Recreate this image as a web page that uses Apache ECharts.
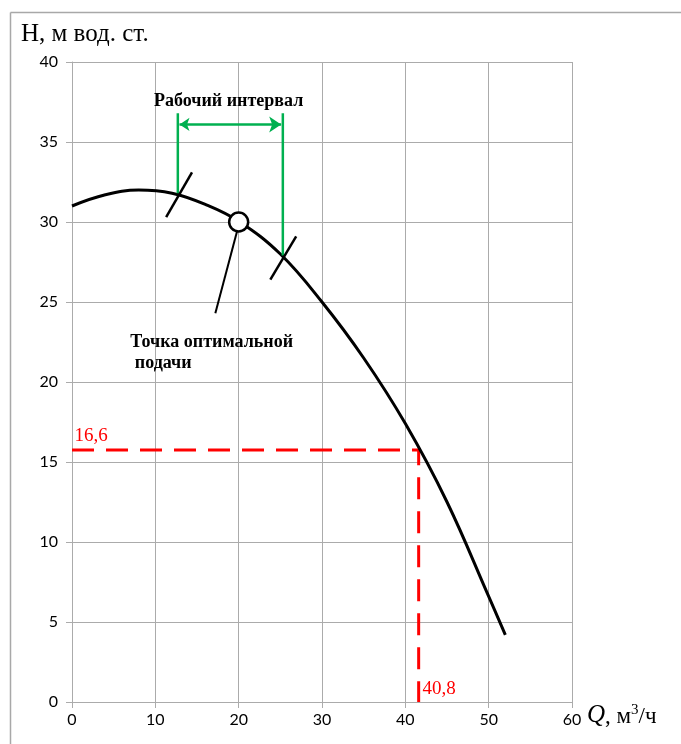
<!DOCTYPE html>
<html><head><meta charset="utf-8">
<script src="https://cdn.jsdelivr.net/npm/echarts@6/dist/echarts.min.js"></script>
<style>html,body{margin:0;padding:0;background:#fff}#c{width:681px;height:744px}</style>
</head><body><div id="c"></div>
<script>
// Pump curve H(Q)
const Q = [0, 4, 8, 12, 16, 20, 25, 30, 35, 40, 45, 50, 52];
const H = [31, 31.7, 32, 31.8, 31.1, 30.05, 28, 25, 21.5, 17.4, 12.5, 6.6, 4.2];
// axis ticks
const xTicks = [0, 10, 20, 30, 40, 50, 60];
const yTicks = [0, 5, 10, 15, 20, 25, 30, 35, 40];
// working interval
const workQ = [12.7, 25.3];
const workH = [31.8, 27.9];
const workTop = 36.8;
const arrowH = 36.1;
// optimal point
const optPoint = [20, 30];
const optLeader = [[19.8, 29.4], [17.2, 24.3]];
// crossing marks on curve
const markA = [[11.3, 30.3], [14.4, 33.1]];
const markB = [[23.8, 26.4], [26.9, 29.1]];
// operating point (red)
const opQ = 41.6, opH = 15.75;
const opLabels = ['16,6', '40,8'];
// texts
const txtWork = 'Рабочий интервал';
const txtOpt = 'Точка оптимальной\n подачи';

const chart = echarts.init(document.getElementById('c'), null, {renderer: 'canvas'});
const grid = {left: 72, right: 109, top: 62, bottom: 42};
const gridColor = '#ababab';
const serif = '"Liberation Serif", "DejaVu Serif", serif';
const tickFont = 'Lato, "Open Sans", sans-serif';

const curve = Q.map((q, i) => [q, H[i]]);
function seg(a, b, color, w, extra) {
  return Object.assign({type: 'line', data: [a, b], symbol: 'none', silent: true, animation: false,
    lineStyle: {color: color, width: w}, z: 5}, extra || {});
}
const green = '#00b050';
const series = [
  {type: 'line', data: curve, smooth: 0.4, symbol: 'none', lineStyle: {color: '#000', width: 3}, z: 4, animation: false},
  {type: 'line', data: [[0, opH], [opQ, opH], [opQ, 0]], symbol: 'none', animation: false,
    lineStyle: {color: '#ff0000', width: 3, type: [22, 12]}, z: 3},
  seg([workQ[0], workTop], [workQ[0], workH[0]], green, 2.5),
  seg([workQ[1], workTop], [workQ[1], workH[1]], green, 2.5),
  seg(markA[0], markA[1], '#000', 2.5),
  seg(markB[0], markB[1], '#000', 2.5),
  seg(optLeader[0], optLeader[1], '#000', 2),
  {type: 'lines', coordinateSystem: 'cartesian2d', animation: false, z: 5,
    symbol: ['arrow', 'arrow'], symbolSize: [10, 12],
    lineStyle: {color: green, width: 2.5, opacity: 1},
    data: [{coords: [[workQ[0] + 0.2, arrowH], [workQ[1] - 0.2, arrowH]]}]},
  {type: 'scatter', data: [optPoint], symbol: 'circle', symbolSize: 19, z: 6, animation: false,
    itemStyle: {color: '#fff', borderColor: '#000', borderWidth: 2.5, opacity: 1}},
  {type: 'scatter', symbolSize: 0, z: 7, animation: false, silent: true, itemStyle: {opacity: 1},
    data: [
      {value: [(workQ[0] + workQ[1]) / 2 - 0.2, 37.55], label: {show: true, formatter: txtWork, position: 'inside',
        fontFamily: serif, fontWeight: 'bold', fontSize: 18, color: '#000'}},
      {value: [7.0, 21.8], label: {show: true, formatter: txtOpt, position: 'inside', align: 'left',
        fontFamily: serif, fontWeight: 'bold', fontSize: 18, lineHeight: 21, color: '#000'}},
      {value: [0.3, opH + 0.85], label: {show: true, formatter: opLabels[0], position: 'inside', align: 'left',
        fontFamily: serif, fontSize: 19, color: '#ff0000'}},
      {value: [opQ + 0.45, 0.8], label: {show: true, formatter: opLabels[1], position: 'inside', align: 'left',
        fontFamily: serif, fontSize: 19, color: '#ff0000'}}
    ]}
];

chart.setOption({
  animation: false,
  backgroundColor: '#fff',
  grid: grid,
  xAxis: {type: 'value', min: xTicks[0], max: xTicks[xTicks.length - 1], interval: 10,
    axisLine: {show: true, lineStyle: {color: gridColor, width: 1}},
    axisTick: {show: true, length: 6, lineStyle: {color: gridColor}},
    axisLabel: {color: '#000', fontFamily: tickFont, fontSize: 16, margin: 10},
    splitLine: {show: true, lineStyle: {color: gridColor, width: 1}}},
  yAxis: {type: 'value', min: yTicks[0], max: yTicks[yTicks.length - 1], interval: 5,
    axisLine: {show: true, lineStyle: {color: gridColor, width: 1}},
    axisTick: {show: true, length: 6, lineStyle: {color: gridColor}},
    axisLabel: {color: '#000', fontFamily: tickFont, fontSize: 16, margin: 14},
    splitLine: {show: true, lineStyle: {color: gridColor, width: 1}}},
  graphic: [
    {type: 'line', shape: {x1: 10.5, y1: 12.5, x2: 681, y2: 12.5}, style: {stroke: '#a8a8a8', lineWidth: 1.5}},
    {type: 'line', shape: {x1: 10.5, y1: 12.5, x2: 10.5, y2: 744}, style: {stroke: '#a8a8a8', lineWidth: 1.5}},
    {type: 'text', left: 21, top: 22, style: {text: 'H, м вод. ст.', font: '25px ' + serif, fill: '#000'}},
    {type: 'text', left: 587, top: 703, style: {
      text: '{q|Q}{n|, м}{s|3}{n|/ч}',
      rich: {
        q: {fontFamily: serif, fontStyle: 'italic', fontSize: 25, color: '#000', verticalAlign: 'bottom'},
        n: {fontFamily: serif, fontSize: 23, color: '#000', verticalAlign: 'bottom'},
        s: {fontFamily: serif, fontSize: 15, color: '#000', verticalAlign: 'top', padding: [0, 0, 8, 0]}
      }}}
  ],
  series: series
});
</script></body></html>
